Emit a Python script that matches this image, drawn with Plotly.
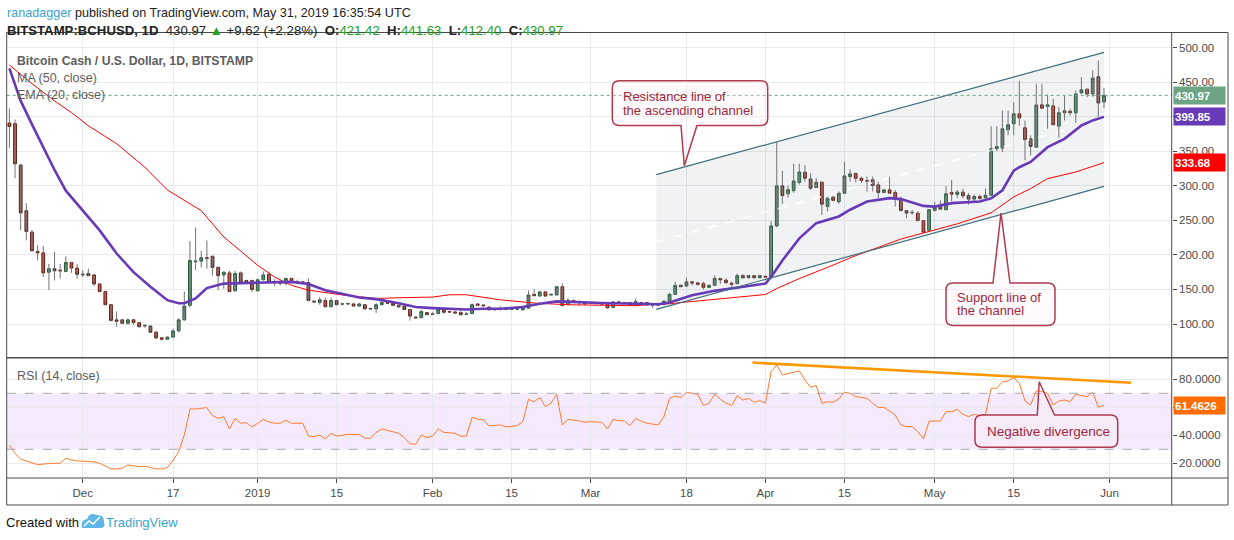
import plotly.graph_objects as go
import pandas as pd

W, H = 1234, 540

# ---------------- data ----------------
opens = [391, 390, 330, 264, 233, 205, 203, 175, 180, 178,
         176, 189, 181, 171, 173, 171, 158, 147, 128, 106,
         106, 101, 106, 102, 97, 97, 88, 80, 78, 81,
         90, 106, 127, 190, 191, 196, 198, 182, 171, 174,
         148, 174, 163, 163, 148, 164, 172, 160, 161, 159,
         166, 161, 161, 160, 133, 131, 134, 125, 134, 129,
         129, 129, 126, 128, 122.5, 122, 128, 131, 130, 127,
         126, 121, 110, 109, 116.5, 114, 115, 121, 118, 117.5,
         116.5, 114, 115, 129, 127.5, 124.5, 120.5, 121, 121, 121,
         121.5, 120.5, 123, 143, 140.5, 146.5, 142, 142, 154, 128,
         134, 132, 131, 130, 131, 130, 129, 124, 132, 131,
         131, 127, 131, 131, 129, 129, 128, 133, 143, 156,
         155, 161, 159.5, 158.5, 153, 156, 166, 163.5, 159, 158.5,
         170, 167, 170, 167, 169, 168, 242, 300, 288.5, 293,
         305, 319.7, 310, 297.6, 305.3, 270, 283.6, 277, 289.4, 313.5,
         318, 311, 307.5, 308.7, 301.4, 290.4, 294.2, 290.4, 280.8, 264,
         261, 260.5, 249.5, 235.5, 264.4, 269.7, 265.4, 290.4, 287.5, 290.9,
         286, 280.8, 284.6, 283, 286.4, 353.8, 354.7, 381.2, 389.8, 404.3,
         384, 368, 356, 417.3, 414.9, 415.8, 386.5, 405.7, 408, 405.7,
         434.6, 440, 433, 458, 421.42]
highs = [412, 396, 332, 275, 236, 214, 213, 187, 204, 187,
         198, 190, 187, 178, 180, 172, 159, 148, 129, 118,
         107, 108, 107, 103, 99, 98, 90, 81, 82, 93,
         108, 147, 220, 240, 206, 221, 199, 183, 176, 177,
         177, 176, 164, 164, 166, 176, 176, 165, 164, 167,
         167, 164, 162, 166, 135, 139, 138, 138, 135, 131,
         131, 131, 131, 129, 123, 130, 134, 132, 131, 128,
         127, 122, 111, 120.5, 117, 117, 122, 122, 119, 118,
         120, 117, 130, 130, 128, 125, 123, 126, 122.5, 122,
         122.5, 123, 148.5, 151, 147, 147, 143.5, 155, 159, 138,
         135.5, 134, 131.5, 131.5, 131.5, 130.5, 130.5, 133, 134, 131.5,
         131.5, 137, 131.5, 131.5, 129.5, 129.5, 134, 145, 161, 157,
         167, 161, 161, 161, 157.5, 170.5, 166, 166, 161, 173,
         172, 170.5, 171, 170.5, 170, 249, 363, 322, 300, 332,
         332, 330, 318, 311, 306, 284, 285.5, 292, 335, 324,
         319, 313.5, 313.5, 313.5, 306, 294.2, 313, 294, 284.6, 264,
         265, 263, 249.5, 265.4, 277, 279, 299.5, 308.7, 294, 296,
         289.4, 287.5, 287.5, 296, 386, 386, 409, 409, 421, 452,
         394.7, 373, 447.6, 447.6, 432, 426, 414, 430, 411.5, 438,
         457, 440, 467, 481.6, 441.63]
lows = [355, 311, 236, 221, 205, 192, 168, 149, 163, 166,
        175, 174, 166, 168, 170, 155, 146, 127, 104, 96,
        100, 99, 99, 95, 95, 87, 78, 76, 77, 80,
        88, 105, 124, 178, 182, 180, 170, 149, 151, 146,
        147, 160, 160, 146, 148, 163, 160, 155, 156, 156,
        159, 158, 158, 133, 130, 128, 124, 124, 127, 127,
        128, 125, 125, 121, 121, 116, 127, 129, 126, 123,
        120, 105, 108, 109, 113, 113, 115, 115, 117, 115,
        112, 113, 115, 126, 125, 120, 119.5, 119.5, 120.5, 120.5,
        121, 120, 122, 140, 140, 139.5, 141, 141.5, 126, 127.5,
        131, 127, 128.5, 129, 129, 128.5, 122, 123.5, 130.5, 130,
        127, 126.5, 130, 127, 123, 126.5, 127.5, 132, 143, 153.5,
        153.5, 156, 155.5, 150, 153, 155, 158, 158, 154, 157.5,
        165.5, 166, 166, 166, 167, 168, 240, 274, 283, 290,
        302, 306, 294, 297, 258, 263, 279, 274, 289, 306,
        305, 304, 292, 292, 282, 289.4, 289.4, 270, 263, 253,
        258, 248.5, 232, 234, 263, 265, 265, 278, 282, 282,
        273, 277.4, 280, 281.6, 285, 350, 349, 373, 373, 387,
        337, 344, 355, 411, 382.6, 388, 369.7, 394.7, 402, 391,
        433, 428, 429, 400, 412.40]
closes = [386, 332, 261, 234, 206, 203, 174, 180, 177, 177,
          189, 181, 172, 172, 170, 158, 147, 128, 105, 104,
          101, 106, 102, 96, 98, 88, 80, 78, 81, 90,
          106, 126, 192, 191, 196, 195, 182, 170, 175, 147,
          173, 160, 161, 150, 164, 171, 160, 161, 159, 166,
          160, 161, 160, 134, 132, 135, 125, 134, 128, 129,
          129.5, 126, 129, 122, 122, 128, 131, 130, 127, 125,
          121, 111.5, 109, 118, 113.5, 114.5, 121, 117, 117.5, 116,
          113.5, 114.5, 128, 127, 126.5, 120.5, 121.5, 121.5, 121.5, 121.5,
          122, 122.5, 142, 141, 146.5, 140.5, 143, 154, 126.5, 134,
          132.5, 131, 129, 131, 129.5, 129, 123.5, 132, 131, 130.5,
          127.5, 132.5, 130.5, 127.5, 127.5, 127.5, 133, 143, 156, 154,
          161, 159.5, 157.5, 153, 156, 166, 164, 160, 157.5, 170,
          167, 170, 167, 170, 168, 242, 300, 286, 294.5, 307,
          320, 311, 296.6, 305.3, 273.5, 282, 279, 289.4, 314.4, 317.3,
          311, 307.7, 307, 300.5, 290.4, 294.2, 289.4, 280.8, 264.4, 260.6,
          261.5, 250, 233, 265.4, 268.7, 266.3, 288.5, 288, 291, 285.6,
          280.8, 284.6, 281.7, 286.4, 353.8, 357, 382.6, 388.4, 404.3, 398.5,
          366.8, 357, 417, 412.5, 417.3, 388.4, 405.7, 408.6, 406, 433,
          439, 433, 456, 420, 430.97]

rsi_vals = [33, 27, 23, 21.5, 20, 19, 19.5, 20, 20, 20,
            23.6, 22.5, 21.7, 21.5, 21.3, 21, 20, 18, 16, 16,
            16.5, 18.8, 18, 17.6, 18, 17, 16, 16, 17, 22,
            28.3, 40.2, 58.8, 58.8, 59.3, 59.8, 54, 52.1, 53.3, 44.5,
            52.1, 48.6, 49, 46, 48.5, 51.4, 49.5, 48.6, 48.6, 50.7,
            48.6, 48.6, 48.6, 39.5, 39, 40.2, 37.4, 41.4, 39.5, 40,
            40.7, 40.5, 40.7, 37.9, 37.9, 42.1, 44.5, 43.5, 42.6, 41.4,
            38.3, 34, 33.6, 40.2, 38.3, 39.5, 44.5, 42.1, 41.8, 41.4,
            39.3, 39.5, 52.9, 51.5, 51, 46.7, 47, 47.4, 46, 46.5,
            46.9, 49.8, 65.7, 64, 66.9, 60.5, 62.9, 69.3, 47.4, 51.4,
            51, 50.2, 49.3, 49.8, 49.5, 49.3, 44.5, 51.4, 50.5, 50.2,
            46.9, 52.1, 50, 48.6, 48, 47.4, 53.3, 66.4, 68.1, 66.9,
            70.7, 70, 69.3, 61.2, 62.9, 69.3, 65.7, 63, 61.2, 68.3,
            65.2, 66.4, 63.6, 64.8, 62.9, 85.5, 90.2, 83.1, 84.3, 85,
            86, 79.5, 74.3, 75.5, 62.9, 64, 63.6, 66, 70.7, 70,
            67.6, 67, 66.4, 62.9, 59.8, 60, 57.4, 54.5, 47.4, 46.2,
            46.2, 42.6, 37.4, 50.2, 50.2, 50.2, 56.9, 56.9, 58.6, 55,
            53.3, 55, 54, 55, 73.6, 73.6, 78.3, 78.8, 81.2, 77.1,
            64.5, 61.7, 71.7, 71.2, 70, 61.7, 64.5, 65.2, 64, 69.3,
            68.3, 67.6, 70.7, 60, 61.4626]

first_day = "2018-11-18"

ema20_dates = ["2018-11-18", "2018-11-20", "2018-11-22", "2018-11-24", "2018-11-26",
               "2018-11-28", "2018-12-01", "2018-12-04", "2018-12-07", "2018-12-10",
               "2018-12-13", "2018-12-16", "2018-12-18", "2018-12-19", "2018-12-21",
               "2018-12-23", "2018-12-26", "2019-01-01", "2019-01-07", "2019-01-10",
               "2019-01-13", "2019-01-19", "2019-01-22", "2019-01-26", "2019-01-29",
               "2019-02-01", "2019-02-04", "2019-02-07", "2019-02-10", "2019-02-13",
               "2019-02-17", "2019-02-20", "2019-02-23", "2019-02-28", "2019-03-03",
               "2019-03-09", "2019-03-13", "2019-03-15", "2019-03-17", "2019-03-19",
               "2019-03-23", "2019-03-28", "2019-04-01", "2019-04-02", "2019-04-04",
               "2019-04-07", "2019-04-10", "2019-04-14", "2019-04-16", "2019-04-19",
               "2019-04-23", "2019-04-25", "2019-04-29", "2019-05-01", "2019-05-04",
               "2019-05-09", "2019-05-11", "2019-05-13", "2019-05-15", "2019-05-16",
               "2019-05-18", "2019-05-21", "2019-05-24", "2019-05-27", "2019-05-29",
               "2019-05-31"]
ema20_vals = [470, 423, 389, 355, 323,
              293, 264, 235.5, 202, 175,
              154, 134.5, 130, 130, 137,
              152, 158.5, 159.6, 161, 158,
              149, 138.4, 136, 130, 124.5,
              123, 122, 121, 122, 122,
              124.5, 129.3, 132.7, 130.8, 130.3,
              129.3, 128.5, 131, 136.5, 141.7,
              148, 153.8, 158.6, 168.2, 192,
              224, 246, 255.7, 265.4, 277.4,
              282.2, 280.8, 271, 270, 275,
              277.4, 282, 293.6, 322, 327,
              334.5, 356, 368, 387.4, 394.7,
              399.85]

ma50_dates = ["2018-11-18", "2018-11-22", "2018-11-26", "2018-11-29", "2018-12-02",
              "2018-12-07", "2018-12-12", "2018-12-16", "2018-12-22", "2018-12-26",
              "2019-01-01", "2019-01-04", "2019-01-07", "2019-01-10", "2019-01-16",
              "2019-01-22", "2019-01-26", "2019-02-01", "2019-02-04", "2019-02-07",
              "2019-02-13", "2019-02-19", "2019-02-25", "2019-03-03", "2019-03-09",
              "2019-03-12", "2019-03-15", "2019-03-17", "2019-03-23", "2019-04-01",
              "2019-04-03", "2019-04-07", "2019-04-12", "2019-04-17", "2019-04-22",
              "2019-04-25", "2019-04-30", "2019-05-05", "2019-05-11", "2019-05-15",
              "2019-05-18", "2019-05-21", "2019-05-26", "2019-05-31"]
ma50_vals = [475, 448, 423, 406, 387,
             361, 327, 294, 264, 226,
             185, 168, 156, 149, 142,
             137, 138, 139, 142.3, 142.3,
             135, 130.3, 127.9, 127, 126.4,
             128.7, 129.3, 131, 135.5, 142.7,
             151.3, 165.8, 182, 199, 214,
             223, 234, 245, 261, 284,
             296, 310.5, 320, 333.68]

# drawings
channel_dates = ["2019-03-12 15:36", "2019-05-31 00:00"]
resistance_vals = [316.2, 493.2]
support_vals = [121.2, 299.3]
divergence_dates = ["2019-03-29 16:48", "2019-06-04 19:12"]
divergence_vals = [91.9, 77.6]

price_ticks = [100, 150, 200, 250, 300, 350, 400, 450, 500]
# 400.00 sits under the EMA value tag in the reference, so it is not shown
price_tick_labels = ["100.00", "150.00", "200.00", "250.00", "300.00",
                     "350.00", "", "450.00", "500.00"]
rsi_ticks = [20, 40, 60, 80]
rsi_tick_labels = ["20.0000", "40.0000", "", "80.0000"]
date_ticks = ["2018-12-01", "2018-12-17", "2019-01-01", "2019-01-15", "2019-02-01",
              "2019-02-15", "2019-03-01", "2019-03-18", "2019-04-01", "2019-04-15",
              "2019-05-01", "2019-05-15", "2019-06-01"]
date_tick_labels = ["Dec", "17", "2019", "15", "Feb", "15", "Mar", "18",
                    "Apr", "15", "May", "15", "Jun"]

last_close = 430.97
last_ema = 399.85
last_ma = 333.68
last_rsi = 61.4626

# ---------------- styling helpers ----------------
FONT = "Liberation Sans"
GREEN = "#6ba583"
GREEN_DARK = "#225437"
RED = "#d75442"
RED_DARK = "#5b1a13"
WICK = "#737375"
GRID = "#e9e9ec"
AXIS = "#4a4a4a"
CALLOUT = "#b03a4e"
CALLOUT_TEXT = "#a0283c"


def px(x):
    return x / W


def py(y):
    return 1 - y / H


PLOT_L, PLOT_R = 6.7, 1171.7
MAIN_T, MAIN_B = 32.5, 357.5
RSI_T, RSI_B = 358.0, 478.0

dates = pd.date_range(first_day, periods=len(closes), freq="D")

fig = go.Figure()

# channel fill + midline
fig.add_trace(go.Scatter(
    x=[channel_dates[0], channel_dates[1], channel_dates[1], channel_dates[0], channel_dates[0]],
    y=[resistance_vals[0], resistance_vals[1], support_vals[1], support_vals[0], resistance_vals[0]],
    mode="lines", line=dict(width=0), fill="toself",
    fillcolor="rgba(120,123,134,0.10)", hoverinfo="skip", xaxis="x", yaxis="y"))
fig.add_trace(go.Scatter(
    x=channel_dates,
    y=[(resistance_vals[0] + support_vals[0]) / 2, (resistance_vals[1] + support_vals[1]) / 2],
    mode="lines", line=dict(color="rgba(255,255,255,0.95)", width=1.5, dash="dash"),
    hoverinfo="skip", xaxis="x", yaxis="y"))

# wicks
wx, wy = [], []
for d, lo, hi in zip(dates, lows, highs):
    wx += [d, d, None]
    wy += [lo, hi, None]
fig.add_trace(go.Scatter(x=wx, y=wy, mode="lines", line=dict(color=WICK, width=1),
                         hoverinfo="skip", xaxis="x", yaxis="y"))

# bodies
body_hi = [max(o, c) for o, c in zip(opens, closes)]
body_lo = [min(o, c) for o, c in zip(opens, closes)]
fig.add_trace(go.Candlestick(
    x=dates, open=opens, high=body_hi, low=body_lo, close=closes,
    increasing=dict(fillcolor=GREEN, line=dict(color=GREEN_DARK, width=1)),
    decreasing=dict(fillcolor=RED, line=dict(color=RED_DARK, width=1)),
    whiskerwidth=0, hoverinfo="skip", xaxis="x", yaxis="y"))

# moving averages
fig.add_trace(go.Scatter(x=ma50_dates, y=ma50_vals, mode="lines",
                         line=dict(color="#ff0000", width=1), hoverinfo="skip",
                         xaxis="x", yaxis="y"))
fig.add_trace(go.Scatter(x=ema20_dates, y=ema20_vals, mode="lines",
                         line=dict(color="#673ab7", width=2.6), hoverinfo="skip",
                         xaxis="x", yaxis="y"))

# channel lines
for vals in (resistance_vals, support_vals):
    fig.add_trace(go.Scatter(x=channel_dates, y=vals, mode="lines",
                             line=dict(color="#3d6e7e", width=1.2), hoverinfo="skip",
                             xaxis="x", yaxis="y"))

# RSI
fig.add_trace(go.Scatter(x=dates, y=rsi_vals, mode="lines",
                         line=dict(color="#ff7a2a", width=1), hoverinfo="skip",
                         xaxis="x2", yaxis="y2"))
fig.add_trace(go.Scatter(x=divergence_dates, y=divergence_vals, mode="lines",
                         line=dict(color="#ff9800", width=2.5), hoverinfo="skip",
                         xaxis="x2", yaxis="y2"))

shapes = []
# RSI band
shapes.append(dict(type="rect", xref="paper", yref="y2", x0=px(PLOT_L), x1=px(PLOT_R),
                   y0=30, y1=70, fillcolor="rgba(155,45,240,0.10)", line=dict(width=0),
                   layer="below"))
for lvl in (30, 70):
    shapes.append(dict(type="line", xref="paper", yref="y2", x0=px(PLOT_L), x1=px(PLOT_R),
                       y0=lvl, y1=lvl, line=dict(color="#aaaaaa", width=1, dash="dash")))
# last-close dotted line
shapes.append(dict(type="line", xref="paper", yref="y", x0=px(PLOT_L), x1=px(PLOT_R),
                   y0=last_close, y1=last_close, line=dict(color=GREEN, width=1, dash="dot")))


# frame lines
def hline(y, x0=6.5, x1=1228, w=1.0, c=AXIS):
    shapes.append(dict(type="line", xref="paper", yref="paper", x0=px(x0), x1=px(x1),
                       y0=py(y), y1=py(y), line=dict(color=c, width=w)))


def vline(x, y0=32.5, y1=505, w=1.0, c=AXIS):
    shapes.append(dict(type="line", xref="paper", yref="paper", x0=px(x), x1=px(x),
                       y0=py(y0), y1=py(y1), line=dict(color=c, width=w)))


hline(32.5)
hline(357.8, w=1.6)
hline(478)
hline(505)
vline(6.7)
vline(1171.7)
vline(1228)


# callouts
def callout(x0, y0, x1, y1, side, a, b, tip, r=7):
    P = lambda x, y: f"{px(x):.5f},{py(y):.5f}"
    d = [f"M{P(x0 + r, y0)}"]
    if side == "top":
        d += [f"L{P(a, y0)}", f"L{P(*tip)}", f"L{P(b, y0)}"]
    d += [f"L{P(x1 - r, y0)}", f"Q{P(x1, y0)} {P(x1, y0 + r)}",
          f"L{P(x1, y1 - r)}", f"Q{P(x1, y1)} {P(x1 - r, y1)}"]
    if side == "bottom":
        d += [f"L{P(b, y1)}", f"L{P(*tip)}", f"L{P(a, y1)}"]
    d += [f"L{P(x0 + r, y1)}", f"Q{P(x0, y1)} {P(x0, y1 - r)}",
          f"L{P(x0, y0 + r)}", f"Q{P(x0, y0)} {P(x0 + r, y0)}", "Z"]
    shapes.append(dict(type="path", xref="paper", yref="paper", path=" ".join(d),
                       line=dict(color=CALLOUT, width=1.5),
                       fillcolor="rgba(255,240,244,0.25)"))


callout(612.3, 80.7, 767.7, 125.5, "bottom", 681, 697, (684.3, 165.7))
callout(946, 283, 1055, 325.5, "top", 993, 1010, (1001, 213))
callout(975, 415, 1117.7, 447.3, "top", 1037.3, 1054.5, (1039.2, 381.7))

annotations = []


def text(x, y, s, size=13, color="#444", anchor="left", yanchor="middle"):
    annotations.append(dict(xref="paper", yref="paper", x=px(x), y=py(y), text=s,
                            showarrow=False, xanchor=anchor, yanchor=yanchor,
                            font=dict(family=FONT, size=size, color=color)))


text(5, 13, '<span style="color:#3ba3d0">ranadagger</span> published on TradingView.com, '
     'May 31, 2019 16:35:54 UTC', size=12.6, color="#222")
G = "#21a121"
text(5, 30, '<b>BITSTAMP:BCHUSD, 1D</b>  430.97 '
     f'<span style="color:{G}">▲</span> +9.62 (+2.28%)  '
     f'<b>O:</b><span style="color:{G}">421.42</span>  '
     f'<b>H:</b><span style="color:{G}">441.63</span>  '
     f'<b>L:</b><span style="color:{G}">412.40</span>  '
     f'<b>C:</b><span style="color:{G}">430.97</span>', size=13.2, color="#222")

text(14.5, 61, "<b>Bitcoin Cash / U.S. Dollar, 1D, BITSTAMP</b>", size=12.2, color="#5d5d5d")
text(14.5, 78, "MA (50, close)", size=12.5, color="#5d5d5d")
text(14.5, 95, "EMA (20, close)", size=12.5, color="#5d5d5d")
text(14.5, 376, "RSI (14, close)", size=12.5, color="#5d5d5d")

text(621, 97, "Resistance line of", size=13, color=CALLOUT_TEXT)
text(621, 110, "the ascending channel", size=13, color=CALLOUT_TEXT)
text(955, 297, "Support line of", size=13, color=CALLOUT_TEXT)
text(955, 310, "the channel", size=13, color=CALLOUT_TEXT)
text(984.5, 431, "Negative divergence", size=13.5, color=CALLOUT_TEXT)

text(4, 522, "Created with", size=13, color="#111")
text(104, 522, "TradingView", size=13, color="#3ba3d0")
# TradingView logo (small cloud)
shapes.append(dict(type="path", xref="paper", yref="paper",
                   path=(f"M{px(82):.5f},{py(528):.5f} "
                         f"Q{px(80):.5f},{py(520):.5f} {px(87):.5f},{py(519):.5f} "
                         f"Q{px(90):.5f},{py(512):.5f} {px(96):.5f},{py(515):.5f} "
                         f"Q{px(104):.5f},{py(514):.5f} {px(104):.5f},{py(522):.5f} "
                         f"Q{px(106):.5f},{py(528):.5f} {px(100):.5f},{py(528):.5f} Z"),
                   fillcolor="#5eb6e4", line=dict(width=0)))
shapes.append(dict(type="path", xref="paper", yref="paper",
                   path=(f"M{px(84):.5f},{py(526):.5f} L{px(89):.5f},{py(521):.5f} "
                         f"L{px(93):.5f},{py(524):.5f} L{px(100):.5f},{py(517):.5f}"),
                   line=dict(color="white", width=1.5)))


# right-axis value labels
def price_tag(val, txt, bg, yref):
    annotations.append(dict(xref="paper", yref=yref, x=px(1172.5), y=val, text=f"<b>{txt}</b>",
                            showarrow=False, xanchor="left", yanchor="middle",
                            bgcolor=bg, width=49, height=15, align="left", borderpad=1,
                            font=dict(family=FONT, size=11.5, color="white")))


price_tag(last_close, "430.97", GREEN, "y")
price_tag(last_ema, "399.85", "#673ab7", "y")
price_tag(last_ma, "333.68", "#ff0000", "y")
price_tag(last_rsi, "61.4626", "#ff6d00", "y2")

xr = ["2018-11-17 12:30", "2019-06-12 00:00"]
axis_font = dict(family=FONT, size=11.5, color=AXIS)

fig.update_layout(
    width=W, height=H, margin=dict(l=0, r=0, t=0, b=0),
    paper_bgcolor="white", plot_bgcolor="white", showlegend=False, hovermode=False,
    xaxis=dict(domain=[px(PLOT_L), px(PLOT_R)], anchor="y", range=xr, type="date",
               tickvals=date_ticks, ticktext=date_tick_labels, showticklabels=False,
               showgrid=True, gridcolor=GRID, zeroline=False, ticks="",
               rangeslider=dict(visible=False), fixedrange=True),
    xaxis2=dict(domain=[px(PLOT_L), px(PLOT_R)], anchor="y2", range=xr, type="date",
                matches="x", tickvals=date_ticks, ticktext=date_tick_labels,
                showgrid=True, gridcolor=GRID, zeroline=False, ticks="outside",
                ticklen=4, tickcolor=AXIS, tickfont=axis_font,
                rangeslider=dict(visible=False)),
    yaxis=dict(domain=[py(MAIN_B), py(MAIN_T)], anchor="x", side="right",
               range=[51.5, 522], tickvals=price_ticks, ticktext=price_tick_labels,
               showgrid=True, gridcolor=GRID, zeroline=False, ticks="outside",
               ticklen=4, tickcolor=AXIS, tickfont=axis_font),
    yaxis2=dict(domain=[py(RSI_B), py(RSI_T)], anchor="x2", side="right",
                range=[9.5, 95.2], tickvals=rsi_ticks, ticktext=rsi_tick_labels,
                showgrid=True, gridcolor=GRID, zeroline=False, ticks="outside",
                ticklen=4, tickcolor=AXIS, tickfont=axis_font),
    shapes=shapes, annotations=annotations,
)

fig.write_html("out.html", config={"displayModeBar": False},
               post_script="document.body.style.margin='0px';document.body.style.overflow='hidden';")
